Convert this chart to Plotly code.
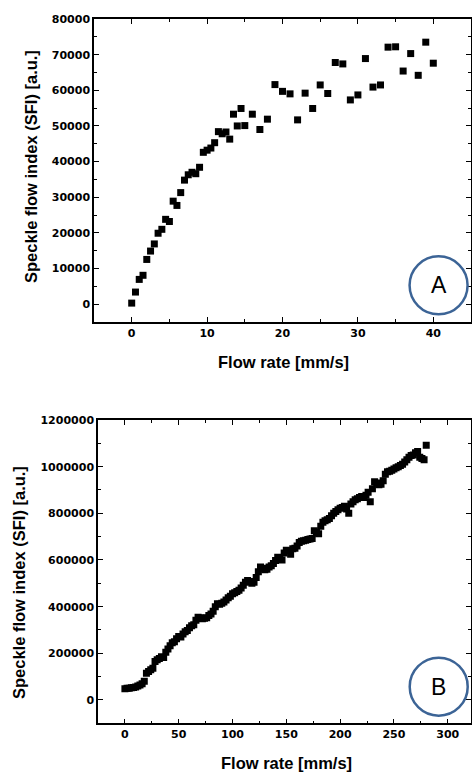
import plotly.graph_objects as go

# panel A: flow rate [mm/s] vs speckle flow index
flow_a = [0, 0.5, 1, 1.5, 2, 2.5, 3, 3.5, 4, 4.5, 5, 5.5, 6, 6.5, 7, 7.5, 8, 8.5, 9, 9.5,
          10, 10.5, 11, 11.5, 12, 12.5, 13, 13.5, 14, 14.5, 15, 16, 17, 18, 19, 20, 21, 22,
          23, 24, 25, 26, 27, 28, 29, 30, 31, 32, 33, 34, 35, 36, 37, 38, 39, 40]
sfi_a = [300, 3400, 6950, 8100, 12550, 14900, 16900, 19900, 21000, 23800, 23200, 28900,
         27700, 31300, 34800, 36300, 37000, 36600, 38400, 42600, 43200, 43800, 45300, 48400,
         47800, 48300, 46300, 53300, 50000, 54900, 50100, 53300, 49000, 51900, 61600, 59700,
         59000, 51700, 59200, 54900, 61500, 59100, 67800, 67400, 57300, 58700, 68900, 60900,
         61500, 72100, 72200, 65400, 70300, 64200, 73500, 67600]

# panel B
flow_b = [0, 2, 4, 6, 8, 10, 12, 14, 16, 18, 20, 22, 24, 26, 28, 30, 32, 34, 36, 38,
          40, 42, 44, 46, 48, 50, 52, 54, 56, 58, 60, 62, 64, 66, 68, 70, 72, 74, 76, 78,
          80, 82, 84, 86, 88, 90, 92, 94, 96, 98, 100, 102, 104, 106, 108, 110, 112, 114, 116, 118,
          120, 122, 124, 126, 128, 130, 132, 134, 136, 138, 140, 142, 144, 146, 148, 150, 152, 154, 156, 158,
          160, 162, 164, 166, 168, 170, 172, 174, 176, 178, 180, 182, 184, 186, 188, 190, 192, 194, 196, 198,
          200, 202, 204, 206, 208, 210, 212, 214, 216, 218, 220, 222, 224, 226, 228, 230, 232, 234, 236, 238,
          240, 242, 244, 246, 248, 250, 252, 254, 256, 258, 260, 262, 264, 266, 268, 270, 272, 274, 276, 278, 280]
sfi_b = [48000, 50000, 50000, 52000, 53000, 56000, 60000, 64000, 70000, 80000,
         115000, 122000, 130000, 136000, 165000, 172000, 178000, 185000, 182000, 205000,
         218000, 232000, 245000, 250000, 262000, 272000, 270000, 283000, 292000, 298000,
         310000, 318000, 322000, 342000, 355000, 352000, 348000, 350000, 352000, 362000,
         368000, 380000, 400000, 412000, 410000, 415000, 420000, 428000, 438000, 445000,
         455000, 460000, 465000, 470000, 480000, 492000, 505000, 512000, 508000, 500000,
         505000, 525000, 550000, 570000, 565000, 558000, 560000, 570000, 575000, 585000,
         598000, 612000, 605000, 600000, 630000, 642000, 640000, 625000, 648000, 650000,
         660000, 675000, 680000, 682000, 685000, 688000, 690000, 692000, 725000, 718000,
         712000, 745000, 762000, 768000, 772000, 778000, 790000, 800000, 808000, 815000,
         822000, 825000, 830000, 818000, 800000, 840000, 850000, 858000, 862000, 868000,
         872000, 868000, 878000, 890000, 850000, 905000, 935000, 930000, 922000, 925000,
         940000, 968000, 978000, 980000, 985000, 990000, 995000, 1000000, 1005000, 1010000,
         1020000, 1030000, 1040000, 1048000, 1050000, 1060000, 1065000, 1040000, 1035000, 1030000,
         1092000]

W, H = 472, 772


def px(v):
    return v / W


def py(v):
    return 1 - v / H


tickfont = dict(family="DejaVu Sans", size=11, color="black", weight="bold")
titlefont = dict(family="Liberation Sans", size=16.5, color="black", weight="bold")
ring = "#3c6496"

fig = go.Figure()
fig.add_trace(go.Scatter(x=flow_a, y=sfi_a, mode="markers", xaxis="x", yaxis="y",
                         marker=dict(symbol="square", size=7, color="black")))
fig.add_trace(go.Scatter(x=flow_b, y=sfi_b, mode="markers", xaxis="x2", yaxis="y2",
                         marker=dict(symbol="square", size=7, color="black")))

axis_style = dict(showline=True, mirror="ticks", linecolor="black", linewidth=1.5,
                  ticks="inside", ticklen=5, tickwidth=1.2, tickcolor="black",
                  showgrid=False, zeroline=False, tickfont=tickfont, automargin=False,
                  tickformat="d",
                  minor=dict(ticks="inside", ticklen=3, tickwidth=1, tickcolor="black"))

fig.update_layout(
    width=W, height=H, margin=dict(l=0, r=0, t=0, b=0),
    paper_bgcolor="white", plot_bgcolor="white", showlegend=False,
    xaxis=dict(axis_style, domain=[px(94), px(471)], range=[-5, 45], dtick=10,
               minor=dict(axis_style["minor"], dtick=5), anchor="y"),
    yaxis=dict(axis_style, domain=[py(322), py(19)], range=[-5000, 80000], dtick=10000,
               minor=dict(axis_style["minor"], dtick=5000), anchor="x"),
    xaxis2=dict(axis_style, domain=[px(98), px(471)], range=[-25, 321.6], dtick=50,
                minor=dict(axis_style["minor"], dtick=25), anchor="y2"),
    yaxis2=dict(axis_style, domain=[py(723.3), py(420)], range=[-100000, 1200000],
                dtick=200000, minor=dict(axis_style["minor"], dtick=100000), anchor="x2"),
)

# axis titles
ytitle = "Speckle flow index (SFI) [a.u.]"
xtitle = "Flow rate [mm/s]"
for x, y, txt, ang in [(283, 362, xtitle, 0), (286, 763, xtitle, 0),
                       (31, 167, ytitle, -90), (19, 583, ytitle, -90)]:
    fig.add_annotation(x=px(x), y=py(y), xref="paper", yref="paper", text=txt,
                       textangle=ang, showarrow=False, font=titlefont,
                       xanchor="center", yanchor="middle")

# panel labels in circles
for xr, yr, cx, cy, lab in [("x", "y", 40.7, 5300, "A"), ("x2", "y2", 291.6, 57000, "B")]:
    fig.add_shape(type="circle", xref=xr, yref=yr, xsizemode="pixel", ysizemode="pixel",
                  xanchor=cx, yanchor=cy, x0=-29, x1=29, y0=-29, y1=29,
                  line=dict(color=ring, width=2.5))
    fig.add_annotation(x=cx, y=cy, xref=xr, yref=yr, text=lab, showarrow=False,
                       font=dict(family="Liberation Sans", size=23, color="black"),
                       xanchor="center", yanchor="middle")

# drop the default body margin so the figure fills the window exactly
fig.write_html("out.html", config={"displayModeBar": False},
               post_script="document.body.style.margin='0';document.body.style.overflow='hidden';")
